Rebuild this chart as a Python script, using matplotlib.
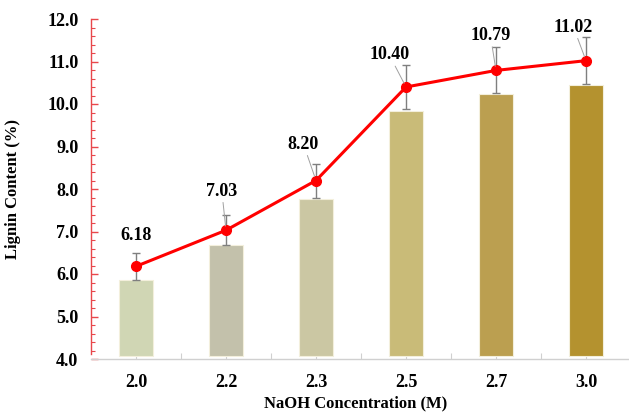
import matplotlib
matplotlib.use("Agg")
import matplotlib.pyplot as plt
from matplotlib.ticker import MultipleLocator, FixedLocator, FormatStrFormatter

# NaOH concentrations and measured lignin content
concentrations = ["2.0", "2.2", "2.3", "2.5", "2.7", "3.0"]
bar_values = [5.85, 6.68, 7.77, 9.84, 10.23, 10.45]
line_values = [6.18, 7.03, 8.20, 10.40, 10.79, 11.02]
errors = [0.31, 0.35, 0.40, 0.52, 0.54, 0.55]
bar_colors = ["#d0d6b4", "#c3c1ab", "#cbc7a3", "#c9bb78", "#bb9f50", "#b4922f"]

serif = ["Liberation Serif", "DejaVu Serif"]
plt.rcParams["font.family"] = serif
plt.rcParams["font.weight"] = "bold"

W, H = 629, 412
fig = plt.figure(figsize=(W / 100, H / 100), dpi=100)
ax = fig.add_axes([91 / W, (H - 359) / H, 540 / W, 340 / H])

x = list(range(len(concentrations)))
bar_bottom = 4.08
ax.bar(x, [v - bar_bottom for v in bar_values], bottom=bar_bottom, width=0.37,
       color=bar_colors, edgecolor="#f3efdc", linewidth=0.8, zorder=2)

ax.errorbar(x, line_values, yerr=errors, fmt="none", ecolor="#7f7f7f",
            elinewidth=1.0, capsize=3, capthick=1.0, zorder=3)
ax.plot(x, line_values, color="#ff0000", linewidth=2.2, marker="o",
        markersize=7, markerfacecolor="#ff0000", markeredgecolor="#ff0000", zorder=4)

# value labels with thin leader lines (offsets in points)
label_offsets = [(0, 16), (-3, 22), (-9, 20), (-12, 17), (-4, 19), (-9, 18)]
for xi, v, off in zip(x, line_values, label_offsets):
    ax.annotate(f"{v:.2f}", xy=(xi, v), xytext=off, textcoords="offset points",
                ha="center", va="bottom", fontsize=13, fontweight="bold",
                arrowprops=dict(arrowstyle="-", color="#a0a0a0", lw=0.7,
                                shrinkA=0, shrinkB=3) if off[0] != 0 else None,
                zorder=5)

ax.set_xlim(-0.5, len(concentrations) - 0.5)
ax.set_ylim(4.0, 12.0)

ax.xaxis.set_major_locator(FixedLocator(x))
ax.xaxis.set_minor_locator(FixedLocator([i + 0.5 for i in x[:-1]]))
ax.set_xticklabels(concentrations)
ax.yaxis.set_major_locator(MultipleLocator(1.0))
ax.yaxis.set_minor_locator(MultipleLocator(0.2))
ax.yaxis.set_major_formatter(FormatStrFormatter("%.1f"))

for side in ("top", "right"):
    ax.spines[side].set_visible(False)
ax.spines["left"].set_color("#e8474b")
ax.spines["left"].set_linewidth(1.0)
ax.spines["left"].set_bounds(4.12, 12.0)
ax.spines["bottom"].set_color("#d0d0d0")
ax.spines["bottom"].set_linewidth(1.0)

ax.tick_params(axis="y", which="major", direction="in", length=5, width=1,
               color="#e8474b", labelsize=13, pad=9)
ax.tick_params(axis="y", which="minor", direction="in", length=3, width=0.8,
               color="#e8474b")
ax.tick_params(axis="x", which="both", direction="in", length=4, width=0.8,
               color="#d0d0d0", labelsize=13, pad=11)
for lab in ax.get_xticklabels() + ax.get_yticklabels():
    lab.set_fontweight("bold")

ax.set_ylabel("Lignin Content (%)", fontsize=12, fontweight="bold")
ax.yaxis.set_label_coords(-0.13, 0.5)
ax.set_xlabel("NaOH Concentration (M)", fontsize=12, fontweight="bold")
ax.xaxis.set_label_coords(0.49, -0.108)

fig.savefig("out.png", dpi=100)
